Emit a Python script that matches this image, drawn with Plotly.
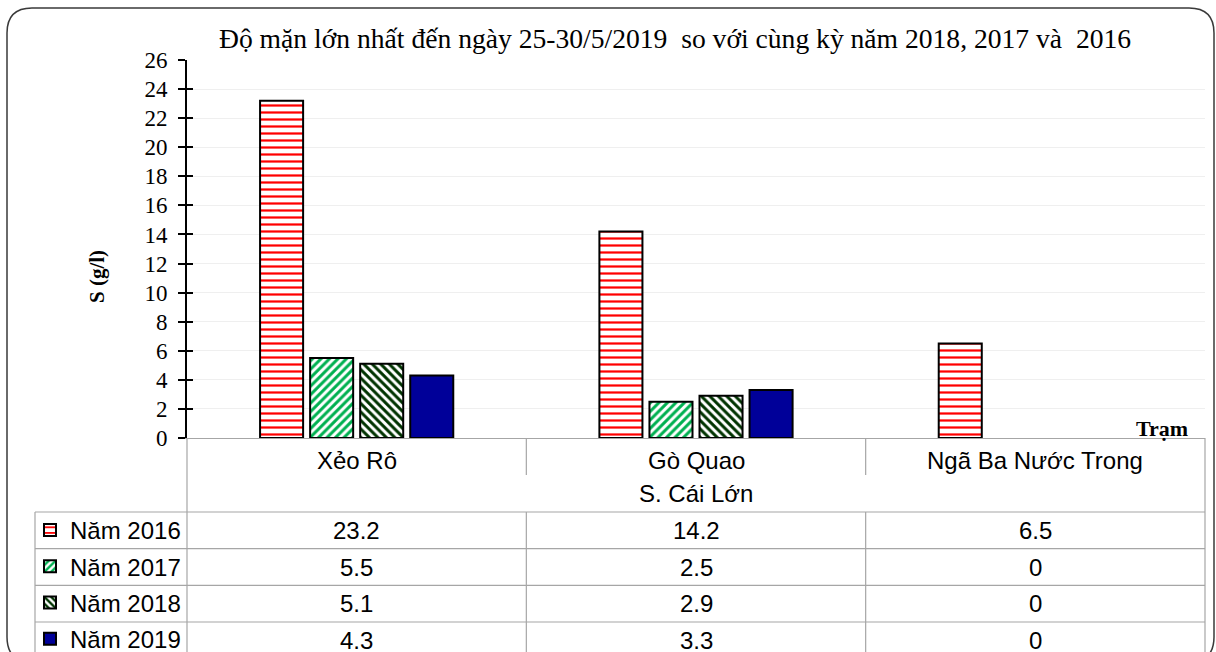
import plotly.graph_objects as go

W, H = 1216, 652

title_text = "Độ mặn lớn nhất đến ngày 25-30/5/2019  so với cùng kỳ năm 2018, 2017 và  2016"
y_title = "S (g/l)"
x_label = "Trạm"
river = "S. Cái Lớn"
stations = ["Xẻo Rô", "Gò Quao", "Ngã Ba Nước Trong"]
series_names = ["Năm 2016", "Năm 2017", "Năm 2018", "Năm 2019"]
v2016 = [23.2, 14.2, 6.5]
v2017 = [5.5, 2.5, 0]
v2018 = [5.1, 2.9, 0]
v2019 = [4.3, 3.3, 0]
y_ticks = list(range(0, 27, 2))

series_values = [v2016, v2017, v2018, v2019]


def fx(px):
    return px / W


def fy(py):
    return 1 - py / H


serif = "Liberation Serif, Times New Roman, serif"
sans = "Liberation Sans, Arial, sans-serif"

styles = [
    dict(color="white", pattern=dict(shape="-", fgcolor="#FF0000", bgcolor="white", size=7,
                                     solidity=0.32, fgopacity=1)),
    dict(color="white", pattern=dict(shape="/", fgcolor="#00B050", bgcolor="white", size=6,
                                     solidity=0.5, fgopacity=1)),
    dict(color="white", pattern=dict(shape="\\", fgcolor="#003300", bgcolor="white", size=6,
                                     solidity=0.5, fgopacity=1)),
    dict(color="#000099"),
]

fig = go.Figure()
for i, (name, vals) in enumerate(zip(series_names, series_values)):
    # zero values are shown in the table only (no bar drawn, as in Excel)
    plot_vals = [v if v != 0 else None for v in vals]
    fig.add_trace(go.Bar(
        x=stations, y=plot_vals, name=name, legendgroup=name,
        marker=dict(line=dict(color="black", width=2), **styles[i]),
    ))

# invisible trace to activate the overlaid y-axis (inner tick marks)
fig.add_trace(go.Scatter(x=[stations[0]], y=[0], yaxis="y2", mode="markers",
                         marker=dict(opacity=0), showlegend=False, hoverinfo="skip"))

x_dom = [fx(187), fx(1205)]
y_dom = [fy(438), fy(60)]

fig.update_layout(
    width=W, height=H,
    margin=dict(l=0, r=0, t=0, b=0, autoexpand=False),
    paper_bgcolor="white", plot_bgcolor="white",
    barmode="group", bargap=0.41, bargroupgap=0.14,
    showlegend=True,
    legend=dict(
        x=fx(30), y=fy(508), xanchor="left", yanchor="top",
        font=dict(family=sans, size=24, color="black"),
        tracegroupgap=2, bgcolor="rgba(0,0,0,0)",
    ),
    xaxis=dict(domain=x_dom, type="category", showticklabels=False, ticks="",
               showline=True, linecolor="#A6A6A6", linewidth=1, showgrid=False,
               range=[-0.5, 2.5], fixedrange=True),
    yaxis=dict(domain=y_dom, range=[0, 26], tickvals=y_ticks,
               ticks="outside", ticklen=7, tickwidth=2, tickcolor="black",
               ticklabelstandoff=6,
               showline=True, linecolor="black", linewidth=2,
               showgrid=True, gridcolor="#EFEFEF", gridwidth=1,
               tickfont=dict(family=serif, size=23, color="black"),
               zeroline=False),
    yaxis2=dict(overlaying="y", side="left", range=[0, 26], tickvals=y_ticks,
                ticks="inside", ticklen=6, tickwidth=2, tickcolor="black",
                showticklabels=False, showgrid=False, showline=False, zeroline=False),
)


def text_ann(text, x, y, font, xref="paper", **kw):
    return dict(text=text, xref=xref, yref="paper", x=x, y=y, showarrow=False,
                xanchor="center", yanchor="middle", font=font, **kw)


ann = []
ann.append(text_ann(title_text, fx(675), fy(38), dict(family=serif, size=27.6, color="black")))
ann.append(text_ann("<b>" + y_title + "</b>", fx(97), fy(277),
                    dict(family=serif, size=21, color="black"), textangle=-90))
ann.append(text_ann("<b>" + x_label + "</b>", fx(1162), fy(428),
                    dict(family=serif, size=22, color="black")))
for s in stations:
    ann.append(text_ann(s, s, fy(460), dict(family=sans, size=24, color="black"), xref="x"))
ann.append(text_ann(river, (x_dom[0] + x_dom[1]) / 2, fy(494),
                    dict(family=sans, size=24, color="black")))

row_top = 512
row_h = 36.67
for r, vals in enumerate(series_values):
    yc = row_top + row_h * (r + 0.5)
    for s, v in zip(stations, vals):
        ann.append(text_ann(f"{v:g}", s, fy(yc), dict(family=sans, size=24, color="black"), xref="x"))
fig.update_layout(annotations=ann)

grid = dict(color="#A6A6A6", width=1.2)
shapes = []
# horizontal table lines
for r in range(len(series_values)):
    yy = fy(row_top + row_h * r)
    shapes.append(dict(type="line", xref="paper", yref="paper", x0=fx(35), x1=x_dom[1], y0=yy, y1=yy, line=grid))
# vertical outer lines
shapes.append(dict(type="line", xref="paper", yref="paper", x0=fx(35), x1=fx(35), y0=fy(row_top), y1=-0.05, line=grid))
shapes.append(dict(type="line", xref="paper", yref="paper", x0=x_dom[0], x1=x_dom[0], y0=y_dom[0], y1=-0.05, line=grid))
shapes.append(dict(type="line", xref="paper", yref="paper", x0=x_dom[1], x1=x_dom[1], y0=y_dom[0], y1=-0.05, line=grid))
# category separators
for k in range(len(stations) - 1):
    xb = k + 0.5
    shapes.append(dict(type="line", xref="x", yref="paper", x0=xb, x1=xb, y0=y_dom[0], y1=fy(475), line=grid))
    shapes.append(dict(type="line", xref="x", yref="paper", x0=xb, x1=xb, y0=fy(row_top), y1=-0.05, line=grid))

# rounded outer frame
x0, x1 = fx(7), fx(1214)
yt, yb = fy(8), fy(662)
rx, ry = 25 / W, 25 / H
path = (f"M {x0},{yb + ry} L {x0},{yt - ry} Q {x0},{yt} {x0 + rx},{yt} "
        f"L {x1 - rx},{yt} Q {x1},{yt} {x1},{yt - ry} L {x1},{yb + ry} "
        f"Q {x1},{yb} {x1 - rx},{yb} L {x0 + rx},{yb} Q {x0},{yb} {x0},{yb + ry} Z")
shapes.append(dict(type="path", xref="paper", yref="paper", path=path,
                   line=dict(color="#3A3A3A", width=1.5), fillcolor="rgba(0,0,0,0)", layer="below"))
fig.update_layout(shapes=shapes)

fig.write_html("out.html", config={"displayModeBar": False},
               post_script="document.body.style.margin='0';document.body.style.overflow='hidden';")
